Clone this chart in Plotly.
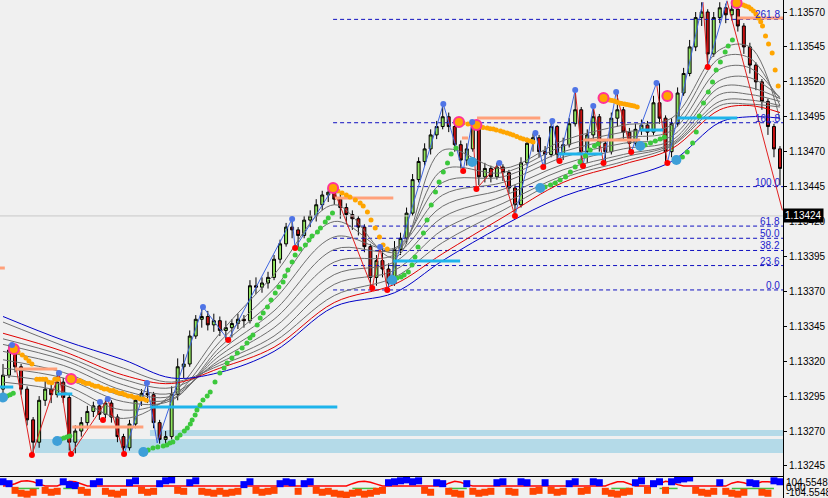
import plotly.graph_objects as go

BASE = 1.13
SCALE = 1e5


def pr(v):
    return None if v is None else BASE + v / SCALE


# ---------------- candles (values in points above 1.13000) ----------------
first_open = 300
close = [310, 328, 316, 300, 278, 262, 292, 300, 296, 305,
         294, 262, 270, 276, 284, 288, 282, 290, 280, 266,
         258, 275, 292, 297, 296, 276, 264, 266, 296, 316,
         318, 338, 350, 352, 346, 349, 342, 344, 347, 350,
         349, 374, 373, 376, 380, 393, 404, 416, 414, 410,
         421, 424, 432, 439, 441, 436, 430, 425, 422, 416,
         402, 380, 392, 386, 376, 400, 408, 426, 450, 463,
         472, 482, 488, 495, 488, 475, 464, 472, 488, 452,
         458, 452, 459, 455, 444, 432, 462, 476, 480, 470,
         468, 488, 468, 475, 490, 500, 470, 482, 495, 476,
         470, 494, 500, 484, 476, 486, 489, 484, 505, 494,
         470, 490, 512, 526, 545, 566, 570, 540, 566, 573,
         568, 572, 560, 545, 532, 520, 506, 488, 472, 458]
high = [318, 332, 329, 318, 302, 280, 295, 306, 305, 312,
        308, 296, 274, 280, 288, 291, 291, 293, 292, 282,
        268, 278, 294, 300, 304, 298, 278, 270, 302, 322,
        325, 342, 353, 359, 356, 354, 352, 349, 350, 354,
        353, 378, 380, 380, 384, 396, 407, 419, 422, 416,
        424, 428, 436, 442, 444, 445, 440, 433, 428, 424,
        418, 404, 396, 403, 390, 406, 412, 430, 454, 466,
        476, 486, 492, 504, 498, 490, 478, 476, 491, 492,
        462, 460, 462, 461, 457, 446, 466, 480, 483, 482,
        474, 492, 489, 480, 494, 514, 502, 486, 503, 497,
        478, 498, 513, 502, 487, 490, 493, 492, 510, 519,
        496, 494, 516, 530, 550, 570, 577, 572, 570, 577,
        576, 576, 576, 562, 548, 534, 522, 508, 490, 474]
low = [296, 308, 312, 296, 274, 253, 258, 288, 290, 294,
       290, 256, 254, 266, 272, 280, 278, 279, 276, 262,
       254, 256, 272, 288, 290, 272, 261, 260, 264, 292,
       308, 316, 336, 344, 342, 341, 338, 335, 337, 343,
       344, 347, 368, 369, 372, 378, 390, 402, 408, 401,
       408, 416, 420, 428, 434, 432, 422, 418, 414, 410,
       398, 372, 374, 380, 371, 374, 396, 404, 424, 448,
       460, 468, 479, 486, 484, 470, 458, 460, 470, 446,
       448, 448, 450, 449, 440, 424, 430, 460, 470, 466,
       459, 466, 463, 464, 473, 488, 460, 462, 478, 470,
       462, 468, 488, 478, 470, 474, 482, 478, 482, 490,
       462, 466, 488, 510, 524, 542, 560, 531, 538, 562,
       562, 564, 556, 540, 526, 514, 500, 482, 466, 446]
n = len(close)
bar_idx = list(range(n))
opens = [first_open] + close[:-1]

# ---------------- moving-average ribbon (read at anchor bars) ----------------
ma_idx = [0, 10, 20, 28, 36, 45, 55, 65, 73, 83, 93, 103, 111, 119, 124, 129]
ma_blue = [352, 335, 321, 308, 312, 327, 359, 369, 392, 417, 438, 451, 463, 491, 495, 494]
ma_red = [340, 327, 310, 304, 315, 330, 362, 375, 397, 423, 448, 461, 472, 500, 503, 498]
ma_g8 = [348, 331, 315, 305, 317, 334, 367, 380, 405, 428, 451, 463, 474, 503, 504, 502]
ma_g7 = [336, 324, 307, 301, 319, 338, 375, 385, 414, 433, 453, 466, 475, 506, 507, 503]
ma_g6 = [332, 321, 303, 297, 321, 344, 382, 391, 423, 438, 457, 468, 476, 511, 511, 506]
ma_g5 = [327, 317, 299, 295, 324, 350, 391, 396, 431, 443, 461, 472, 478, 516, 516, 508]
ma_g4 = [321, 312, 295, 293, 327, 356, 400, 400, 439, 448, 466, 476, 481, 521, 523, 509]
ma_g3 = [315, 308, 291, 292, 330, 364, 409, 401, 448, 452, 470, 480, 485, 529, 530, 508]
ma_g2 = [310, 303, 285, 294, 334, 372, 420, 398, 457, 455, 474, 484, 489, 537, 537, 503]
ma_g1 = [305, 298, 279, 296, 340, 382, 432, 394, 471, 458, 478, 489, 494, 543, 545, 493]

# ---------------- fibonacci ----------------
fib_low = 371
fib_high = 445
fib_start = 54.8
fib_levels = [0.0, 23.6, 38.2, 50.0, 61.8, 100.0, 161.8, 261.8]
fib_labels = ["0.0", "23.6", "38.2", "50.0", "61.8", "100.0", "161.8", "261.8"]

current_price = 424

# ---------------- parabolic SAR ----------------
sar_green_x = [0.7, 1.2, 1.7,
               9.6, 10.1, 10.6, 11.1,
               24.1, 24.9, 25.7, 26.6, 27.2, 27.7, 28.2, 28.9, 29.4, 30.1, 30.6, 31.1, 31.4, 31.9,
               32.2, 32.7, 33.2, 33.9, 34.4, 35.2, 36.0, 36.7, 37.2, 38.0, 38.9, 39.7, 40.5, 41.0,
               41.5, 42.2, 42.7, 43.2, 43.9, 44.5, 45.2, 45.8, 46.5, 46.8, 47.3, 48.0, 48.5, 49.3,
               50.2, 50.8, 51.3, 52.2, 52.7, 53.5, 54.0, 54.7,
               65.4, 66.1, 66.6, 67.3, 67.9, 68.4, 68.9, 69.8, 70.4, 71.1, 71.8, 72.4, 73.1, 73.8,
               74.4, 75.2,
               90.0, 90.9, 91.7, 92.5, 93.4, 94.2, 95.0, 95.8, 96.7, 97.5, 98.2, 98.8,
               106.6, 107.5, 108.3, 109.1, 109.8,
               112.8, 113.6, 114.5, 115.1, 115.6, 116.3, 117.1, 117.8, 118.4, 119.1, 119.9, 120.4, 121.1]
sar_green_y = [295, 296, 297,
               264.3, 265, 265.7, 266.4,
               256.4, 257.8, 258.5, 259.3, 260, 261.4, 262.1, 265, 267.1, 270, 272.2, 275, 277.9, 281.5,
               285, 288.6, 292.2, 295.1, 297.9, 305.1, 311.5, 315.1, 318.7, 322.3, 325.9, 329.4, 333, 336.6,
               338.7, 345.9, 350.9, 354.5, 358.8, 363.8, 368.8, 373.1, 376.7, 381, 385.3, 391, 396, 400.3,
               403.2, 406.8, 409.6, 412.5, 415.4, 419.6, 422.5, 426.1,
               379.6, 380.3, 381.7, 383.8, 388.9, 394.6, 401.7, 411.8, 421.1, 431.8, 441.1, 448.3, 455.4, 461.9,
               468.3, 472.6,
               444.7, 446.1, 447.6, 449.7, 451.9, 455.4, 459, 462.6, 466.9, 471.2, 474.1, 475.5,
               474.8, 476.2, 477.6, 479.1, 480.5,
               466.2, 469.8, 476.2, 484.1, 495.5, 504.9, 512.7, 519.9, 528.5, 534.2, 541.4, 545.7, 550]
sar_orange_x = [2.5, 3.2, 3.8, 4.3, 4.8,
                5.6, 6.1, 6.6, 7.1, 7.6, 8.1, 8.6, 9.1,
                11.8, 12.3, 12.8, 13.3, 13.8, 14.3, 14.8, 15.3, 15.8, 16.3, 16.8, 17.3, 17.8, 18.3,
                18.8, 19.3, 19.8, 20.3, 20.8, 21.3, 21.8, 22.3, 22.8, 23.3, 23.8,
                55.6, 56.3, 57.0, 57.6, 58.5, 59.3, 59.8, 60.5, 61.1, 61.8, 62.5, 63.1, 63.8,
                76.4, 77.2, 77.9, 79.2, 79.7, 80.4, 80.9, 81.4, 81.9, 82.6, 83.1, 83.7, 84.2, 84.7,
                85.3, 85.9, 86.4, 87.0, 87.5, 88.0,
                100.7, 101.1, 101.5, 101.9, 102.3, 102.7, 103.2, 103.6, 104.0, 104.4, 104.8, 105.3,
                122.9, 123.3, 123.8, 124.2, 124.6, 125.0, 125.4, 125.8, 126.1, 126.6, 127.1, 127.7,
                128.2, 128.7]
sar_orange_y = [326.6, 324.4, 322.3, 320.1, 318,
                307, 307, 307, 307, 305, 304.5, 307, 307,
                307, 306, 306, 305, 304, 304, 303, 302, 302, 301, 300, 300, 299, 299,
                298, 297, 297, 296, 295, 295, 294, 294, 293, 293, 292,
                441.8, 440.4, 439, 437.5, 435.4, 433.3, 431.1, 426.8, 421.1, 415.4, 408.9, 403.2, 400.3,
                490.5, 489.8, 489.8, 487.7, 487.3, 486.9, 486.5, 486.2, 485.5, 484.8, 484.1, 483.4, 482.7, 481.9,
                480.9, 479.8, 479.1, 478.4, 477.6, 476.9,
                507.0, 506.6, 506.3, 505.6, 504.9, 504.5, 504.1, 503.8, 503.4, 503.0, 502.7, 502.0,
                575, 574.3, 573.6, 572.2, 570.7, 568.5, 565.7, 563, 560, 552.8, 547.1, 540.6,
                528.5, 517]
start_up_x = [0.0, 9.0, 23.3, 64.6, 77.9, 89.2, 105.8, 111.8]
start_up_y = [294, 262.8, 255, 378.1, 462.6, 444, 474.1, 464]
start_dn_x = [1.8, 11.3, 54.8, 75.7, 78.6, 99.7, 110.3, 121.8]
start_dn_y = [328.7, 307.2, 444, 491.2, 489.1, 508.4, 509.9, 576.5]

# ---------------- fractals & zigzag ----------------
frac_hi_x = [1.5, 9.3, 16.1, 17.4, 23.9, 33.2, 48.0, 62.6, 73.1, 77.9, 82.4, 88.4, 91.2, 95.0,
             98.0, 101.8, 108.5]
frac_hi_y = [331.6, 311.5, 290.8, 292.9, 304.4, 358.8, 421.8, 401.7, 504.1, 491.2, 461.9, 483.4,
             492, 514.2, 502.7, 512.7, 519.2]
frac_lo_x = [4.8, 11.3, 16.6, 20.1, 37.4, 48.5, 61.3, 63.8, 76.4, 78.6, 85.0, 89.7, 92.4, 96.3,
             99.7, 104.3, 110.3, 117.0]
frac_lo_y = [252.8, 253.5, 277.9, 253.5, 335.2, 401, 372.4, 371, 456.2, 443.3, 423.9, 459, 463.3,
             459.7, 461.9, 469.8, 461.9, 530.6]
zz_x = [1.5, 4.8, 9.3, 11.3, 17.4, 20.1, 23.9, 25.6, 33.2, 37.4, 48.0, 48.5, 54.8, 61.3, 62.6,
        63.8, 73.1, 76.4, 77.9, 78.6, 82.4, 85.0, 88.4, 89.7, 91.2, 92.4, 95.0, 96.3, 98.0, 99.7,
        101.8, 104.3, 108.5, 110.3, 116.2, 117.0, 120.2, 129.4]
zz_y = [331.6, 252.8, 311.5, 253.5, 292.9, 253.5, 304.4, 261.4, 358.8, 335.2, 421.8, 401, 444,
        372.4, 401.7, 371, 504.1, 456.2, 491.2, 443.3, 461.9, 423.9, 483.4, 459, 492, 463.3, 514.2,
        459.7, 502.7, 461.9, 512.7, 469.8, 519.2, 461.9, 577, 530.6, 578, 428]
zz_leg_colors = "rrrrrbbbbbbbrrrbbbrrrbbbbbrbrbrbrbrbr"

# ---------------- horizontal level segments ----------------
cyan_x0 = [-0.5, 9.0, 24.4, 64.8, 92.2, 105.8, 112.0]
cyan_x1 = [1.7, 11.5, 55.5, 75.9, 99.5, 109.6, 121.9]
cyan_y = [301.5, 296.5, 287.2, 391.7, 468.3, 485.5, 494.1]
salmon_x0 = [-0.5, 2.0, 11.5, 55.1, 76.2, 78.7, 96.3, 121.9]
salmon_x1 = [0.3, 9.0, 23.3, 64.8, 77.2, 89.2, 105.8, 129.5]
salmon_y = [386.7, 314.4, 272.9, 436.8, 479.8, 494.1, 478.4, 565.7]

zone_x0 = [5.3, 24.4]
zone_x1 = [129.5, 129.5]
zone_lo = [254.3, 266.4]
zone_hi = [264.3, 270.7]

# ---------------- lower oscillator ----------------
osc = [120, 80, -60, -120, -140, -100, 100, -60, -100, -80,
       120, 60, 40, -60, -100, 80, 120, -80, -120, -140,
       -100, 100, 140, -60, -100, -80, 80, 140, 160, -60,
       -80, 100, 140, -80, -100, -120, -80, -120, -100, -80,
       60, 120, -60, -100, -80, -60, 80, 120, 100, -80,
       80, 120, -60, -100, -80, -120, -140, -160, -120, -100,
       -140, -120, -80, -60, 100, 120, 140, 160, 120, 140,
       -60, -100, 100, 80, -80, -120, -140, 80, -80, -120,
       -100, -80, 100, 120, -80, -100, 120, 100, -80, -60,
       100, -60, -100, -80, 80, 120, -80, -60, 120, 100,
       -80, -120, -140, -100, -80, 100, 140, -60, 80, 120,
       -60, 120, 160, 180, 200, -60, -100, -120, -80, 100,
       -80, -120, -140, -100, 100, 80, -100, -120, 140, 120]
osc_signal = [30, 40, 80, 130, 140, 120, 70, 30, 30, 30,
              80, 130, 120, 70, 30, 30, 30, 30, 30, 30,
              30, 30, 30, 30, 30, 30, 30, 30, 30, 30,
              30, 30, 30, 30, 30, 30, 30, 30, 30, 30,
              30, 30, 30, 30, 30, 30, 30, 30, 30, 30,
              30, 30, 30, 30, 30, 30, 30, 30, 80, 120,
              130, 110, 70, 30, 30, 30, 30, 30, 30, 30,
              30, 30, 30, 30, 90, 130, 110, 60, 30, 30,
              30, 30, 30, 30, 30, 30, 30, 30, 30, 30,
              30, 30, 30, 30, 30, 30, 30, 30, 30, 30,
              30, 80, 120, 120, 70, 30, 30, 30, 30, 80,
              130, 110, 60, 30, 30, 30, 30, 30, 30, 30,
              30, 90, 120, 100, 60, 80, 120, 120, 110, 80]
osc_green_x = [2, 3, 4, 5, 6, None, 10, 11, 12, 13, None, 58, 59, 60, 61, 62, None,
               74, 75, 76, 77, None, 101, 102, 103, 104, None, 109, 110, 111, 112, None,
               121, 122, 123, 124, 125, 126, 127, 128]
osc_green_y = [-20, -25, -25, -20, -20, None, -20, -25, -20, -20, None, -20, -25, -25, -20, -20, None,
               -20, -25, -20, -20, None, -20, -25, -25, -20, None, -20, -25, -20, -20, None,
               -20, -25, -25, -20, -20, -25, -25, -20]
osc_ticks = [104.5548, 0.0, -104.5548]
osc_tick_text = ["104.5548", "0.00", "-104.5548"]

# ---------------- figure ----------------
FONT = "Liberation Sans"
fig = go.Figure()


def seg_xy(x0s, x1s, ys):
    xs, yv = [], []
    for a, b, y in zip(x0s, x1s, ys):
        xs += [a, b, None]
        yv += [pr(y), pr(y), None]
    return xs, yv


# current price line
fig.add_trace(go.Scatter(x=[-0.5, n - 0.5], y=[pr(current_price)] * 2, mode="lines",
                         line=dict(color="#C8C8C8", width=1)))

# fib lines
for lvl in fib_levels:
    p = fib_low + (fib_high - fib_low) * lvl / 100.0
    fig.add_trace(go.Scatter(x=[fib_start, n - 0.5], y=[pr(p)] * 2, mode="lines",
                             line=dict(color="#1010C0", width=1, dash="4px,3px")))

# MA ribbon
for g in [ma_g8, ma_g7, ma_g6, ma_g5, ma_g4, ma_g3, ma_g2, ma_g1]:
    fig.add_trace(go.Scatter(x=ma_idx, y=[pr(v) for v in g], mode="lines",
                             line=dict(color="#6E6E6E", width=1, shape="spline", smoothing=1.0)))
fig.add_trace(go.Scatter(x=ma_idx, y=[pr(v) for v in ma_red], mode="lines",
                         line=dict(color="#E00000", width=1, shape="spline", smoothing=1.0)))
fig.add_trace(go.Scatter(x=ma_idx, y=[pr(v) for v in ma_blue], mode="lines",
                         line=dict(color="#0000C8", width=1, shape="spline", smoothing=1.0)))

# candles
fig.add_trace(go.Candlestick(
    x=bar_idx, open=[pr(v) for v in opens], high=[pr(v) for v in high],
    low=[pr(v) for v in low], close=[pr(v) for v in close],
    increasing=dict(line=dict(color="black", width=1), fillcolor="#8EE45C"),
    decreasing=dict(line=dict(color="black", width=1), fillcolor="#C81010"),
    whiskerwidth=0))

# zigzag
for col_key, col in [("r", "#E02020"), ("b", "#3F66E0")]:
    xs, ys = [], []
    for k, c in enumerate(zz_leg_colors):
        if c == col_key:
            xs += [zz_x[k], zz_x[k + 1], None]
            ys += [pr(zz_y[k]), pr(zz_y[k + 1]), None]
    fig.add_trace(go.Scatter(x=xs, y=ys, mode="lines", line=dict(color=col, width=1)))

# level segments
xs, ys = seg_xy(salmon_x0, salmon_x1, salmon_y)
fig.add_trace(go.Scatter(x=xs, y=ys, mode="lines", line=dict(color="#FFA07A", width=3)))
xs, ys = seg_xy(cyan_x0, cyan_x1, cyan_y)
fig.add_trace(go.Scatter(x=xs, y=ys, mode="lines", line=dict(color="#1EB4EB", width=3)))

# SAR dots
fig.add_trace(go.Scatter(x=sar_green_x, y=[pr(v) for v in sar_green_y], mode="markers",
                         marker=dict(color="#3CC83C", size=5)))
fig.add_trace(go.Scatter(x=sar_orange_x, y=[pr(v) for v in sar_orange_y], mode="markers",
                         marker=dict(color="#FFA500", size=5)))
fig.add_trace(go.Scatter(x=start_up_x, y=[pr(v) for v in start_up_y], mode="markers",
                         marker=dict(color="#3D9FD8", size=10)))
fig.add_trace(go.Scatter(x=start_dn_x, y=[pr(v) for v in start_dn_y], mode="markers",
                         marker=dict(color="#FFA500", size=10, line=dict(color="#FF3399", width=2))))

# fractals
fig.add_trace(go.Scatter(x=frac_hi_x, y=[pr(v) for v in frac_hi_y], mode="markers",
                         marker=dict(color="#4F74E6", size=6)))
fig.add_trace(go.Scatter(x=frac_lo_x, y=[pr(v) for v in frac_lo_y], mode="markers",
                         marker=dict(color="#FF0000", size=6)))

# oscillator panel
fig.add_trace(go.Scatter(x=bar_idx, y=osc_signal, mode="lines", xaxis="x2", yaxis="y2",
                         line=dict(color="#FF0000", width=1.5)))
fig.add_trace(go.Scatter(x=osc_green_x, y=osc_green_y, mode="lines", xaxis="x2", yaxis="y2",
                         line=dict(color="#40C040", width=1.5)))
fig.add_trace(go.Scatter(x=bar_idx, y=osc, mode="markers", xaxis="x2", yaxis="y2",
                         marker=dict(symbol="square", size=7,
                                     color=["#0000FF" if v > 0 else "#FF4500" for v in osc])))

shapes = []
for a, b, lo, hi in zip(zone_x0, zone_x1, zone_lo, zone_hi):
    shapes.append(dict(type="rect", xref="x", yref="y", x0=a, x1=b, y0=pr(lo), y1=pr(hi),
                       fillcolor="#B4DAE8", line=dict(width=0), layer="below"))

annotations = []
for lvl, lab in zip(fib_levels, fib_labels):
    p = fib_low + (fib_high - fib_low) * lvl / 100.0
    annotations.append(dict(x=n - 0.7, y=pr(p), xref="x", yref="y", text=lab, showarrow=False,
                            xanchor="right", yanchor="bottom", yshift=-3,
                            font=dict(family=FONT, size=10, color="#2222CC")))
annotations.append(dict(x=1.0, y=pr(current_price), xref="paper", yref="y", text="1.13424",
                        showarrow=False, xanchor="left", yanchor="middle", xshift=0,
                        bgcolor="black", borderpad=1,
                        font=dict(family=FONT, size=10, color="white")))

price_ticks = [pr(v) for v in [245, 270, 295, 320, 345, 370, 395, 420, 445, 470, 495, 520, 545, 570]]
price_tick_text = ["%.5f" % t for t in price_ticks]

fig.update_layout(
    width=828, height=498,
    margin=dict(l=0, r=45, t=0, b=0, autoexpand=False),
    paper_bgcolor="#F0F0F0", plot_bgcolor="#F0F0F0",
    showlegend=False, hovermode=False,
    font=dict(family=FONT, size=10, color="black"),
    shapes=shapes, annotations=annotations,
    xaxis=dict(domain=[0, 1], range=[-0.5, n - 0.5], anchor="y", showticklabels=False,
               showgrid=False, zeroline=False, showline=True, linecolor="black", linewidth=1,
               ticks="", automargin=False, rangeslider=dict(visible=False)),
    yaxis=dict(domain=[0.0442, 1], range=[pr(237.8), pr(578.6)], side="right",
               tickvals=price_ticks, ticktext=price_tick_text, ticks="outside", ticklen=3,
               tickcolor="black", showgrid=False, zeroline=False, showline=True,
               linecolor="black", linewidth=1, automargin=False,
               tickfont=dict(family=FONT, size=10)),
    xaxis2=dict(domain=[0, 1], range=[-0.5, n - 0.5], anchor="y2", matches="x",
                showticklabels=False, showgrid=False, zeroline=False, ticks="", automargin=False),
    yaxis2=dict(domain=[0, 0.0422], range=[-220, 220], side="right", anchor="x2",
                tickvals=osc_ticks, ticktext=osc_tick_text, ticks="", showgrid=False,
                zeroline=False, showline=True, linecolor="black", linewidth=1, automargin=False,
                tickfont=dict(family=FONT, size=10)),
)

fig.write_html(
    "out.html",
    config={"displayModeBar": False, "staticPlot": True},
    post_script="document.body.style.margin='0px';document.body.style.padding='0px';"
                "document.body.style.background='#F0F0F0';",
)
